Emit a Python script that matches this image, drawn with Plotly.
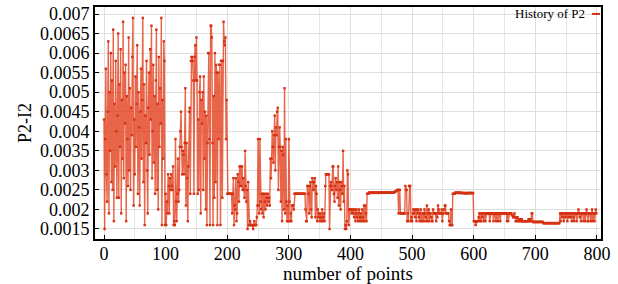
import plotly.graph_objects as go

# Values of P2-I2, by block of 100 points
seg_0 = [
    .0043, .0015, .0038, .0056, .0029, .0022, .0045, .0063, .0019, .0050,
    .0035, .0060, .0027, .0053, .0025, .0066, .0017, .0047, .0031, .0058,
    .0040, .0023, .0044, .0065, .0023, .0052, .0036, .0061, .0019, .0048,
    .0033, .0068, .0028, .0055, .0042, .0057, .0017, .0049, .0038, .0026,
    .0064, .0030, .0051, .0025, .0046, .0039, .0059, .0069, .0021, .0043,
    .0029, .0054, .0036, .0047, .0062, .0024, .0050, .0041, .0021, .0045,
    .0056, .0033, .0048, .0069, .0027, .0052, .0016, .0044, .0037, .0058,
    .0030, .0019, .0046, .0055, .0034, .0061, .0043, .0067, .0028, .0040,
    .0057, .0032, .0049, .0024, .0053, .0066, .0025, .0047, .0020, .0059,
    .0036, .0051, .0042, .0069, .0016, .0048, .0033, .0063, .0058, .0016,
]
seg_100 = [
    .0024, .0016, .0022, .0019, .0029, .0026, .0019, .0028, .0025, .0029,
    .0026, .0025, .0031, .0016, .0017, .0016, .0038, .0022, .0017, .0024,
    .0033, .0022, .0025, .0036, .0040, .0045, .0036, .0029, .0035, .0034,
    .0029, .0037, .0051, .0021, .0037, .0028, .0017, .0031, .0045, .0046,
    .0024, .0058, .0059, .0059, .0058, .0053, .0024, .0059, .0062, .0053,
    .0064, .0053, .0024, .0043, .0025, .0050, .0054, .0019, .0048, .0042,
    .0050, .0025, .0054, .0033, .0045, .0020, .0044, .0016, .0037, .0060,
    .0060, .0038, .0016, .0067, .0067, .0064, .0037, .0016, .0049, .0023,
    .0060, .0027, .0057, .0055, .0016, .0055, .0038, .0057, .0057, .0016,
    .0058, .0058, .0023, .0058, .0068, .0063, .0062, .0064, .0038, .0048,
]
seg_200 = [
    .0024, .0024, .0024, .0024, .0024, .0024, .0024, .0024, .0019, .0024,
    .0028, .0016, .0021, .0020, .0028, .0017, .0019, .0029, .0027, .0022,
    .0031, .0026, .0031, .0026, .0031, .0025, .0028, .0025, .0023, .0035,
    .0026, .0022, .0025, .0015, .0027, .0016, .0016, .0017, .0016, .0016,
    .0016, .0016, .0015, .0016, .0017, .0016, .0016, .0016, .0018, .0021,
    .0038, .0021, .0019, .0038, .0022, .0020, .0024, .0019, .0024, .0018,
    .0024, .0022, .0020, .0024, .0023, .0021, .0024, .0022, .0023, .0021,
    .0033, .0028, .0033, .0040, .0036, .0032, .0039, .0044, .0030, .0041,
    .0039, .0045, .0046, .0025, .0036, .0041, .0036, .0022, .0035, .0017,
    .0036, .0034, .0020, .0051, .0019, .0038, .0022, .0017, .0021, .0017,
]
seg_300 = [
    .0038, .0022, .0017, .0019, .0017, .0021, .0021, .0021, .0020, .0024,
    .0024, .0024, .0024, .0024, .0024, .0024, .0024, .0024, .0024, .0024,
    .0024, .0024, .0024, .0024, .0024, .0024, .0024, .0020, .0017, .0017,
    .0026, .0026, .0024, .0019, .0026, .0027, .0020, .0018, .0028, .0027,
    .0025, .0027, .0028, .0018, .0026, .0024, .0017, .0020, .0018, .0019,
    .0017, .0019, .0018, .0017, .0020, .0017, .0018, .0019, .0017, .0026,
    .0029, .0029, .0029, .0029, .0029, .0029, .0015, .0026, .0027, .0026,
    .0025, .0031, .0031, .0024, .0022, .0026, .0028, .0025, .0027, .0023,
    .0031, .0021, .0027, .0025, .0020, .0027, .0026, .0024, .0035, .0022,
    .0026, .0015, .0016, .0015, .0017, .0030, .0029, .0016, .0020, .0020,
]
seg_400 = [
    .0020, .0020, .0019, .0020, .0019, .0020, .0018, .0020, .0017, .0019,
    .0020, .0018, .0017, .0019, .0020, .0017, .0018, .0019, .0017, .0020,
    .0018, .0017, .0021, .0017, .0021, .0019, .0017, .0024, .0024, .0024,
    .00243, .00243, .00243, .00242, .00243, .00243, .00243, .00243, .00242, .00243,
    .00243, .00243, .00243, .00243, .00243, .00242, .00243, .00243, .00243, .00243,
    .00243, .00243, .00243, .00243, .00243, .00243, .00243, .00243, .00243, .00243,
    .00243, .00243, .00243, .00243, .00243, .00243, .00243, .00243, .00243, .00243,
    .00243, .00244, .00245, .00246, .00247, .00248, .0025, .0025, .0019, .0025,
    .0025, .0019, .0019, .0019, .0019, .0019, .0019, .0019, .0019, .0026,
    .0025, .0025, .0017, .0019, .0017, .0026, .0026, .0026, .0017, .0018,
]
seg_500 = [
    .0017, .0019, .0020, .0019, .0020, .0018, .0020, .0017, .0020, .0019,
    .0020, .0018, .0017, .0019, .0020, .0017, .0017, .0019, .0019, .0017,
    .0020, .0019, .0018, .0017, .0021, .0017, .0019, .0020, .0017, .0019,
    .0019, .0018, .0017, .0017, .0020, .0019, .0019, .0019, .0019, .0017,
    .0019, .0018, .0021, .0020, .0019, .0019, .0019, .0019, .0020, .0017,
    .0019, .0019, .0020, .0021, .0021, .0019, .0019, .0019, .0019, .0019,
    .0017, .0016, .0016, .0020, .0016, .0016, .0024, .0024, .0024, .0024,
    .00243, .00243, .00242, .00243, .00243, .00243, .00242, .00242, .00243, .00243,
    .00242, .00242, .00242, .00242, .00242, .00242, .00242, .00241, .00241, .00242,
    .00242, .00242, .00242, .00242, .00242, .00242, .00242, .00242, .00242, .00242,
]
seg_600 = [
    .0017, .0017, .0017, .0016, .0017, .0017, .0017, .0017, .0018, .0019,
    .0017, .0019, .0017, .0019, .0018, .0019, .0017, .0019, .0019, .0017,
    .0019, .0019, .0019, .0019, .0019, .0019, .0017, .0019, .0019, .0019,
    .0019, .0019, .0017, .0019, .0019, .0019, .0017, .0019, .0019, .0017,
    .0019, .0019, .0019, .0017, .0019, .0019, .0019, .0019, .0019, .0019,
    .0019, .0019, .0019, .0019, .0017, .0019, .0017, .0019, .0019, .0019,
    .0019, .0019, .00185, .00185, .0018, .0018, .0019, .0018, .0017, .0017,
    .0018, .0018, .0017, .0017, .00175, .00175, .0017, .0017, .00175, .0017,
    .0017, .0017, .0017, .0017, .0017, .0017, .0017, .0017, .0017, .00175,
    .0017, .0017, .00175, .0017, .0019, .0019, .00168, .00168, .00168, .00168,
]
seg_700 = [
    .00168, .00168, .00168, .00168, .00168, .00168, .00168, .00168, .00168, .00168,
    .00168, .00168, .00168, .00165, .00165, .00165, .00165, .00165, .00165, .00165,
    .00165, .00165, .00165, .00165, .00165, .00165, .00165, .00165, .00165, .00165,
    .00165, .00165, .00165, .00165, .00165, .00165, .00165, .00165, .00165, .00165,
    .0019, .0017, .0019, .0019, .0018, .0019, .0017, .0019, .0019, .0018,
    .0019, .0019, .0017, .0019, .0018, .0019, .0019, .0018, .0019, .0017,
    .0019, .0019, .0018, .0017, .0019, .0019, .0019, .0017, .0019, .0019,
    .0020, .0019, .0018, .0019, .0017, .0019, .0019, .0019, .0017, .0019,
    .0019, .0017, .0019, .0020, .0019, .0017, .0017, .0019, .0019, .0019,
    .0017, .0019, .0020, .0017, .0019, .0019, .0017, .0019, .0020, .0019,
]

p2_values = seg_0 + seg_100 + seg_200 + seg_300 + seg_400 + seg_500 + seg_600 + seg_700
point_index = list(range(len(p2_values)))

x_ticks = [0, 100, 200, 300, 400, 500, 600, 700, 800]
y_ticks = [0.0015, 0.002, 0.0025, 0.003, 0.0035, 0.004, 0.0045, 0.005,
           0.0055, 0.006, 0.0065, 0.007]
y_tick_labels = ["0.0015", "0.002", "0.0025", "0.003", "0.0035", "0.004", "0.0045",
                 "0.005", "0.0055", "0.006", "0.0065", "0.007"]

FONT = "Liberation Serif"
LINE_C = "rgba(226,58,22,0.78)"
MARK_C = "rgb(214,48,18)"

fig = go.Figure()
fig.add_trace(go.Scatter(
    x=point_index, y=p2_values, mode="lines+markers", name="History of P2",
    line=dict(color=LINE_C, width=1.4),
    marker=dict(symbol="square", size=2.4, color=MARK_C, line=dict(width=0)),
    showlegend=False,
))

# legend-like label at top right (text then line sample)
fig.add_annotation(x=0.973, y=0.970, xref="paper", yref="paper", text="History of P2",
                   showarrow=False, xanchor="right", yanchor="middle",
                   font=dict(family=FONT, size=13, color="black"))
fig.add_shape(type="line", xref="paper", yref="paper", x0=0.982, x1=0.998,
              y0=0.970, y1=0.970, line=dict(color=MARK_C, width=2))

fig.update_layout(
    width=618, height=284,
    margin=dict(l=95, r=17, t=7, b=45),
    paper_bgcolor="white", plot_bgcolor="white",
    font=dict(family=FONT, size=18, color="black"),
)
fig.update_xaxes(
    range=[-14.6, 806.5], tickvals=x_ticks, ticks="inside", ticklen=4,
    tickcolor="black", showline=True, linecolor="black", linewidth=2, mirror=True,
    showgrid=True, gridcolor="#dedede", gridwidth=1, zeroline=False,
    minor=dict(dtick=50, showgrid=True, gridcolor="#e6e6e6", ticks=""),
    title=dict(text="number of points", font=dict(family=FONT, size=19), standoff=0),
    tickfont=dict(family=FONT, size=18), automargin=False, ticklabelstandoff=-3,
)
fig.update_yaxes(
    range=[0.001244, 0.007179], tickvals=y_ticks, ticktext=y_tick_labels,
    ticks="inside", ticklen=4, tickcolor="black",
    showline=True, linecolor="black", linewidth=2, mirror=True,
    showgrid=True, gridcolor="#dedede", gridwidth=1, zeroline=False,
    title=dict(text="P2-I2", font=dict(family=FONT, size=18), standoff=4),
    tickfont=dict(family=FONT, size=18), automargin=False,
)

fig.write_html("out.html", config={"displayModeBar": False},
               post_script="document.body.style.margin='0';")
